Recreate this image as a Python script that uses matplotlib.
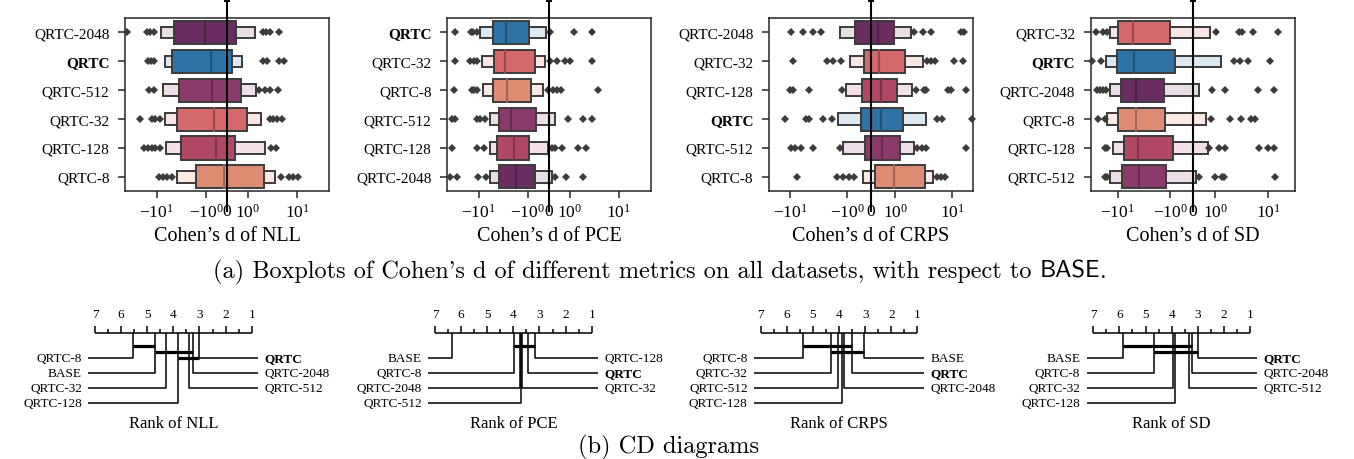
import numpy as np
import matplotlib.pyplot as plt
import matplotlib.colors as mcolors
from matplotlib.ticker import NullLocator
from matplotlib import transforms

plt.rcParams.update({
    "font.family": "Liberation Serif",
    "mathtext.fontset": "cm",
    "axes.linewidth": 1.1,
    "axes.edgecolor": "#262626",
    "xtick.major.size": 4.8,
    "ytick.major.size": 4.8,
    "xtick.major.width": 1.1,
    "ytick.major.width": 1.1,
    "xtick.color": "#262626",
    "ytick.color": "#262626",
    "xtick.labelcolor": "black",
    "ytick.labelcolor": "black",
})

W, H = 1354, 460

# colours of the variants (box / outer letter-value box)
main_col = {"QRTC": "#2e72a6", "QRTC-8": "#de8b74", "QRTC-32": "#d4686a",
            "QRTC-128": "#b04866", "QRTC-512": "#8b3b6b", "QRTC-2048": "#6a2d62"}
light_col = {"QRTC": "#dde9f0", "QRTC-8": "#fbeae4", "QRTC-32": "#f9e6e4",
             "QRTC-128": "#f2e1e7", "QRTC-512": "#ecdfe7", "QRTC-2048": "#e8dee6"}

# ---- boxen data (top -> bottom) ----
nll_order = ["QRTC-2048", "QRTC", "QRTC-512", "QRTC-32", "QRTC-128", "QRTC-8"]
nll_box = [[-4.45, 0.45], [-4.88, 0.24], [-3.57, 0.67], [-3.97, 0.94], [-3.15, 0.40], [-1.62, 2.11]]
nll_outer = [[-8.15, 1.41], [-6.95, 0.71], [-7.64, 1.43], [-6.85, 1.81], [-6.64, 2.25], [-3.97, 3.52]]
nll_med = [-1.03, -0.78, -0.71, -0.62, -0.51, -0.16]
nll_fliers = [[-40.8, -16.1, -13.8, -11.5, 2.01, 2.36, 2.84, 4.19],
              [-15.3, -13.4, -11.5, 2.01, 2.47, 4.25, 5.3],
              [-14.3, -11.3, 1.67, 2.18, 2.84, 4.05],
              [-22.0, -12.7, -10.9, -8.7, 2.75, 3.21, 3.86, 4.97],
              [-18.2, -14.9, -12.7, -10.9, -8.7, 2.98, 3.64],
              [-8.95, -7.43, -6.34, -5.02, 4.74, 6.77, 8.41, 10.6]]

pce_order = ["QRTC", "QRTC-32", "QRTC-8", "QRTC-512", "QRTC-128", "QRTC-2048"]
pce_box = [[-5.07, -0.94], [-4.91, -0.67], [-5.21, -0.86], [-3.83, -0.62], [-4.21, -0.94], [-3.83, -0.64]]
pce_outer = [[-9.44, -0.11], [-8.71, -0.19], [-8.09, -0.27], [-5.92, 0.29], [-5.92, -0.03], [-5.92, 0.13]]
pce_med = [-2.84, -2.93, -2.71, -2.22, -1.90, -1.75]
pce_fliers = [[-30.3, -14.4, -12.9, -11.0, 0.05, 1.22, 2.89],
              [-30.3, -15.0, -12.3, -11.0, 0.05, 0.41, 0.76, 1.0, 2.89],
              [-31.8, -13.9, -12.5, -11.0, -0.03, 0.21, 0.37, 0.56, 3.76],
              [-35.4, -30.3, -11.0, -9.44, -7.46, 0.92, 1.87, 2.89],
              [-35.4, -11.0, -7.82, 0.13, 0.29, 0.61, 1.48, 2.19],
              [-38.3, -28.0, -10.2, -7.13, 0.29, 0.84, 1.87]]

crps_order = ["QRTC-2048", "QRTC-32", "QRTC-128", "QRTC", "QRTC-512", "QRTC-8"]
crps_box = [[-0.69, 0.95], [-0.29, 1.50], [-0.39, 1.07], [-0.43, 1.37], [-0.25, 1.19], [0.14, 3.37]]
crps_outer = [[-1.36, 1.88], [-0.87, 3.07], [-1.04, 1.99], [-1.42, 3.51], [-1.16, 2.15], [-0.36, 4.53]]
crps_med = [0.28, 0.30, 0.41, 0.41, 0.44, 0.93]
crps_fliers = [[-9.8, -5.87, -4.0, -2.9, 2.09, 3.07, 4.25, 14.4, 16.4],
               [-8.81, -2.27, -1.74, -1.29, 3.61, 4.25, 5.06, 10.6, 15.6],
               [-10.1, -9.04, -4.6, -1.24, 2.34, 3.14, 3.51, 8.34, 9.58, 17.8],
               [-12.4, -5.26, -4.6, -2.61, -1.85, 5.42, 6.64, 22.4],
               [-9.8, -8.22, -6.53, -3.91, -1.36, 2.40, 2.94, 3.51, 17.8],
               [-7.5, -1.48, -1.16, -0.94, -0.73, 5.42, 6.37, 7.59]]

sd_order = ["QRTC-32", "QRTC", "QRTC-2048", "QRTC-8", "QRTC-128", "QRTC-512"]
sd_box = [[-9.7, -1.04], [-10.1, -0.82], [-8.73, -1.30], [-9.7, -1.26], [-7.57, -0.89], [-8.36, -1.21]]
sd_outer = [[-13.9, 0.77], [-16.8, 1.28], [-13.9, 0.29], [-15.7, 0.59], [-12.4, 0.65], [-13.9, 0.15]]
sd_med = [-5.18, -4.89, -4.48, -4.48, -4.05, -3.87]
sd_fliers = [[-25.7, -18.7, -16.1, 1.03, 2.75, 3.2, 5.18, 15.1],
             [-31.0, -21.0, 2.22, 2.97, 4.09, 11.0],
             [-24.3, -21.6, -18.7, -16.6, 0.85, 1.50, 6.43, 12.7],
             [-23.2, -17.3, 0.82, 1.86, 3.06, 4.74, 5.71],
             [-17.3, -15.7, 0.70, 1.15, 1.54, 6.61, 9.8, 12.7],
             [-17.3, -15.7, 0.29, 1.0, 1.33, 1.43, 13.7]]

# ---- CD diagrams: average ranks (worst -> best) and cliques ----
nll_cd_names = ["QRTC-8", "BASE", "QRTC-32", "QRTC-128", "QRTC-512", "QRTC-2048", "QRTC"]
nll_cd_ranks = [5.53, 4.69, 4.28, 3.83, 3.39, 3.26, 3.00]
nll_cliques = [(5.53, 4.69), (4.69, 3.26), (3.83, 3.00)]

pce_cd_names = ["BASE", "QRTC-8", "QRTC-2048", "QRTC-512", "QRTC-32", "QRTC", "QRTC-128"]
pce_cd_ranks = [6.36, 3.97, 3.76, 3.71, 3.68, 3.45, 3.17]
pce_cliques = [(3.97, 3.17)]

crps_cd_names = ["QRTC-8", "QRTC-32", "QRTC-512", "QRTC-128", "QRTC-2048", "QRTC", "BASE"]
crps_cd_ranks = [5.37, 4.32, 4.05, 3.90, 3.82, 3.49, 3.03]
crps_cliques = [(5.37, 3.49), (4.32, 3.03)]

sd_cd_names = ["BASE", "QRTC-8", "QRTC-32", "QRTC-128", "QRTC-512", "QRTC-2048", "QRTC"]
sd_cd_ranks = [5.87, 4.66, 3.96, 3.86, 3.33, 3.23, 2.98]
sd_cliques = [(5.87, 3.23), (4.66, 2.98)]

fig = plt.figure(figsize=(W / 100, H / 100), dpi=100)

edge = "#3b3b3b"


def boxen(ax, order, box, outer, med, fliers, xlim, xlabel):
    ax.set_xscale("symlog", linthresh=1, linscale=0.3825)
    for i, name in enumerate(order):
        lo, hi = outer[i]
        ax.barh(i, hi - lo, left=lo, height=0.4, color=light_col[name],
                edgecolor=edge, linewidth=1.4, zorder=2)
        lo, hi = box[i]
        ax.barh(i, hi - lo, left=lo, height=0.8, color=main_col[name],
                edgecolor=edge, linewidth=1.4, zorder=3)
        dark = np.array(mcolors.to_rgb(main_col[name])) * 0.72
        ax.plot([med[i], med[i]], [i - 0.4, i + 0.4], color=dark, lw=1.5, zorder=4)
        ax.plot(fliers[i], [i] * len(fliers[i]), "D", ms=3.6, mew=0, color=edge,
                zorder=3, clip_on=False)
    ax.set_xlim(*xlim)
    ax.set_ylim(5.5, -0.5)
    ax.set_xticks([-10, -1, 0, 1, 10])
    ax.xaxis.set_minor_locator(NullLocator())
    ax.tick_params(axis="x", labelsize=12.5)
    ax.tick_params(axis="y", labelsize=11, pad=6.5)
    ax.set_yticks(range(len(order)))
    ax.set_yticklabels(order)
    for lab in ax.get_yticklabels():
        if lab.get_text() == "QRTC":
            lab.set_fontweight("bold")
    ax.set_xlabel(xlabel, fontsize=14.5)
    ax.axvline(0, ymin=-0.114, ymax=1.098, color="black", lw=1.5,
               clip_on=False, zorder=6)
    trans = transforms.blended_transform_factory(ax.transData, ax.transAxes)
    ax.plot([0], [1.098], marker="_", ms=5, mew=1.5, color="black",
            transform=trans, clip_on=False, zorder=6)


top_left = [125.3, 447.3, 769.0, 1090.7]
top_w = 204.0
boxen_sets = [
    (nll_order, nll_box, nll_outer, nll_med, nll_fliers, (-43.6, 45.0), "Cohen’s d of NLL"),
    (pce_order, pce_box, pce_outer, pce_med, pce_fliers, (-43.4, 45.5), "Cohen’s d of PCE"),
    (crps_order, crps_box, crps_outer, crps_med, crps_fliers, (-23.7, 23.2), "Cohen’s d of CRPS"),
    (sd_order, sd_box, sd_outer, sd_med, sd_fliers, (-32.4, 31.8), "Cohen’s d of SD"),
]
for x0, args in zip(top_left, boxen_sets):
    ax = fig.add_axes([x0 / W, 1 - 192.3 / H, top_w / W, 173.3 / H])
    boxen(ax, *args)


def cd_diagram(ax, names, ranks, cliques, label):
    ax.set_xlim(7, 1)
    ax.set_ylim(130, 0)
    ax.axis("off")
    kw = dict(color="black", lw=1.1, clip_on=False, solid_capstyle="butt")
    ya = 34.3
    ax.plot([7, 1], [ya, ya], **kw)
    for t in np.arange(1, 7.5, 0.5):
        tl = 7.7 if t == int(t) else 4.3
        ax.plot([t, t], [ya, ya - tl], **kw)
    for t in range(1, 8):
        ax.text(t, 15, str(t), ha="center", va="center", fontsize=9.5)
    n_left = (len(names) + 1) // 2
    for j in range(n_left):
        y = 59.3 + 15 * j
        ax.plot([ranks[j], ranks[j], 7.25], [ya, y, y], **kw)
        ax.text(7.5, y, names[j], ha="right", va="center", fontsize=9.5,
                fontweight="bold" if names[j] == "QRTC" else "normal")
    right = list(zip(names[n_left:], ranks[n_left:]))[::-1]
    for j, (nm, r) in enumerate(right):
        y = 59.3 + 15 * j
        ax.plot([r, r, 0.75], [ya, y, y], **kw)
        ax.text(0.5, y, nm, ha="left", va="center", fontsize=9.5,
                fontweight="bold" if nm == "QRTC" else "normal")
    for c, (a, b) in enumerate(cliques):
        y = 46.7 + 6 * c
        ax.plot([a, b], [y, y], color="black", lw=2.3, clip_on=False,
                solid_capstyle="butt")
    ax.text(4, 124.3, label, ha="center", va="center", fontsize=12)


cd_left = [95.0, 435.0, 760.7, 1093.3]
cd_sets = [
    (nll_cd_names, nll_cd_ranks, nll_cliques, "Rank of NLL"),
    (pce_cd_names, pce_cd_ranks, pce_cliques, "Rank of PCE"),
    (crps_cd_names, crps_cd_ranks, crps_cliques, "Rank of CRPS"),
    (sd_cd_names, sd_cd_ranks, sd_cliques, "Rank of SD"),
]
for x0, args in zip(cd_left, cd_sets):
    ax = fig.add_axes([x0 / W, 1 - 430 / H, 156.7 / W, 130 / H])
    cd_diagram(ax, *args)


# ---- sub-captions (LaTeX-like) ----
renderer = fig.canvas.get_renderer()


def caption(pieces, x_px, y_px, width_px):
    texts = [fig.text(0, 0, s, family=f, fontsize=10) for s, f in pieces]
    total = sum(t.get_window_extent(renderer).width for t in texts)
    size = 10 * width_px / total
    x = x_px
    for t in texts:
        t.set_fontsize(size)
        t.set_position((x / W, 1 - y_px / H))
        t.set_va("center")
        x += t.get_window_extent(renderer).width
    return texts


caption([("(a) Boxplots of Cohen's d of different metrics on all datasets, with respect to\u00a0", "cmr10"),
         ("BASE", "cmss10"), (".", "cmr10")], 213, 272, 895)
caption([("(b) CD diagrams", "cmr10")], 578, 447, 182)

fig.savefig("out.png", dpi=100, facecolor="white")
